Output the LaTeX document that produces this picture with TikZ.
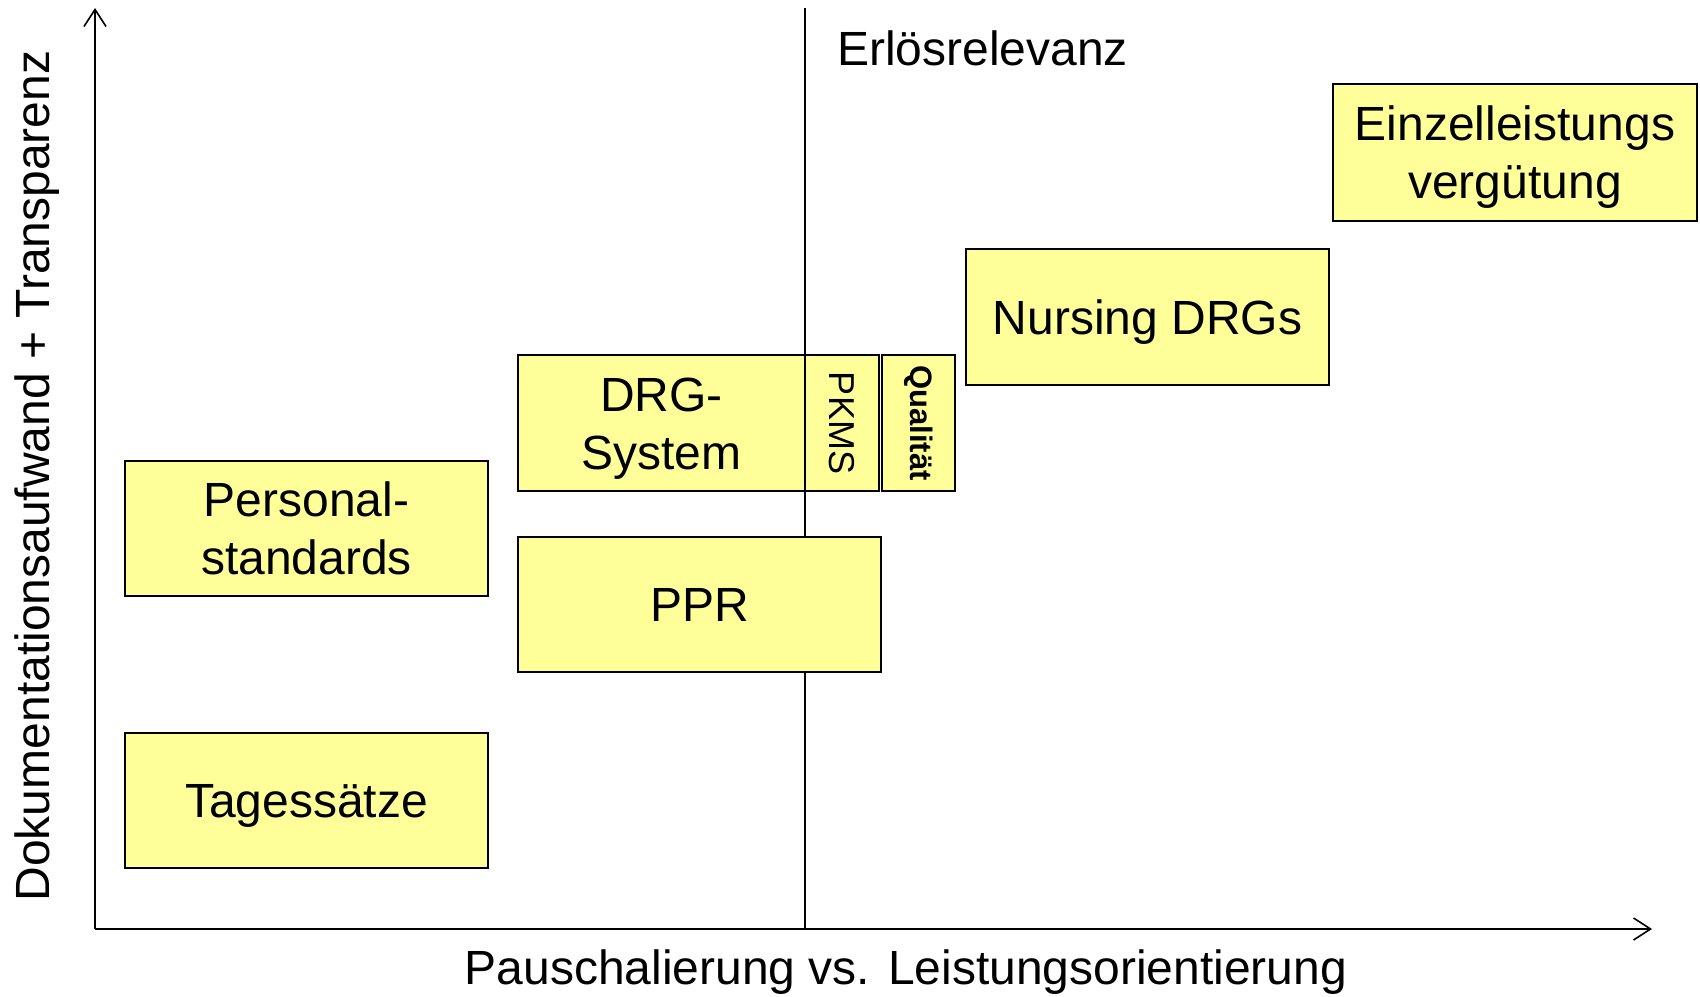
\documentclass[tikz,border=0pt]{standalone}
\usepackage{fontspec}
\setmainfont{Liberation Sans}
\usetikzlibrary{arrows.meta}
\definecolor{boxfill}{HTML}{FFFF99}
% text block whose reported height is from the last baseline to the top of the first cap line
\newcommand\capbox[2]{\raisebox{0pt}[\dimexpr 34.4pt+#1\relax][0pt]{\begin{tabular}[b]{@{}c@{}}#2\end{tabular}}}
\begin{document}
\begin{tikzpicture}[x=1pt,y=-1pt,
  box/.style={draw=black, line width=1.6pt, fill=boxfill, inner sep=0pt,
    font=\fontsize{48}{58}\selectfont},
  axis/.style={line width=1.6pt, -{Straight Barb[length=17pt,width=22pt,line width=1.6pt]}},
  lbl/.style={font=\fontsize{48}{58}\selectfont, inner sep=0pt}]
\useasboundingbox (0,0) rectangle (1700,996);
\coordinate (O) at (95,929);
\coordinate (Ytip) at (95,8);
\coordinate (Xtip) at (1652,929);
\coordinate (Vtop) at (805,8);
\coordinate (Vbot) at (805,929);
\draw[line width=1.6pt] (Vtop) -- (Vbot);
\draw[axis] (O) -- (Ytip);
\draw[axis] (O) -- (Xtip);

\node[box, minimum width=364pt, minimum height=137pt] (einz) at (1515,152.5) {\capbox{58pt}{Einzelleistungs\\vergütung}};
\node[box, minimum width=363pt, minimum height=136pt] (nurs) at (1147.5,317) {\capbox{0pt}{Nursing DRGs}};
\node[box, minimum width=287pt, minimum height=136pt] (drg) at (661.5,423) {\capbox{58pt}{DRG-\\System}};
\node[box, minimum width=74pt, minimum height=136pt] (pkms) at (842,423)
  {\fontsize{36}{40}\selectfont\rotatebox{-90}{PKMS}};
\node[box, minimum width=73pt, minimum height=136pt] (qual) at (918.5,423)
  {\fontsize{31}{36}\selectfont\bfseries\rotatebox{-90}{Qualität}};
\node[box, minimum width=363pt, minimum height=135pt] (pers) at (306.5,528.5) {\capbox{58pt}{Personal-\\standards}};
\node[box, minimum width=363pt, minimum height=135pt] (ppr) at (699.5,604.5) {\capbox{0pt}{PPR}};
\node[box, minimum width=363pt, minimum height=135pt] (tage) at (306.5,800.5) {\capbox{0pt}{Tagessätze}};

\node[lbl, anchor=base west] (erl) at (837,65) {Erlösrelevanz};
\node[lbl, anchor=base] (xlab) at (906,984) {Pauschalierung vs. Leistungsorientierung};
\node[lbl, anchor=base, rotate=90] (ylab) at (49,476) {Dokumentationsaufwand + Transparenz};
\end{tikzpicture}
\end{document}
